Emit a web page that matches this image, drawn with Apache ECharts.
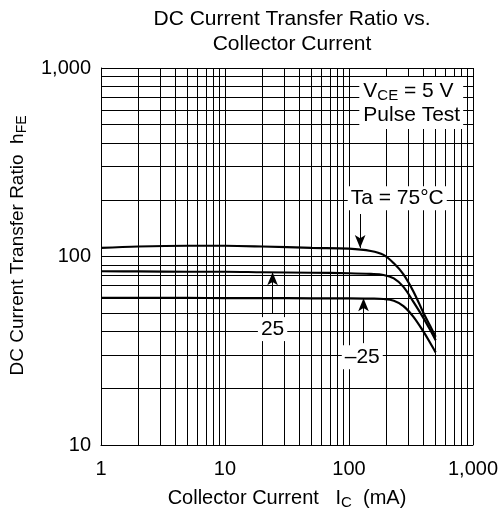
<!DOCTYPE html>
<html>
<head>
<meta charset="utf-8">
<script src="https://cdn.jsdelivr.net/npm/echarts@6/dist/echarts.min.js"></script>
<style>html,body{margin:0;padding:0;background:#fff;}#c{width:501px;height:516px;}</style>
</head>
<body>
<div id="c"></div>
<script>
// Collector current (mA)
var ic = [1, 2, 5, 10, 20, 50, 100, 150, 190, 230, 275, 330, 400, 450, 500];
// hFE per ambient temperature
var hfe75 = [111, 113, 114, 114, 113, 111, 110, 107, 102, 92, 80.5, 65.5, 50, 43, 37.5];
var hfe25 = [83.5, 83.3, 83, 83, 82.5, 82, 81.5, 80.8, 79.8, 76.5, 69, 57.6, 47, 41, 36];
var hfeM25 = [60.4, 60.4, 60.3, 60.2, 60.2, 60, 60, 59.8, 59.5, 58.3, 54.6, 48, 39.8, 35, 31];
var xTickLabels = ['1', '10', '100', '1,000'];
var yTickLabels = ['10', '100', '1,000'];

var FONT = 'Liberation Sans, Arial, sans-serif';
var FS = 20;
var AFS = 21;

function pairs(xs, ys) { return xs.map(function (x, i) { return [x, ys[i]]; }); }

// minor log grid lines 2..9 per decade
var gridX = [], gridY = [];
[1, 10, 100].forEach(function (d) { for (var k = 2; k <= 9; k++) gridX.push(k * d); });
[10, 100].forEach(function (d) { for (var k = 2; k <= 9; k++) gridY.push(k * d); });

var gridLineData = gridX.map(function (v) { return { xAxis: v }; })
  .concat(gridY.map(function (v) { return { yAxis: v }; }));

var decadeLabel = { 1: xTickLabels[0], 10: xTickLabels[1], 100: xTickLabels[2], 1000: xTickLabels[3] };
var decadeLabelY = { 10: yTickLabels[0], 100: yTickLabels[1], 1000: yTickLabels[2] };

function subRich(fs, subFs, pad) {
  return {
    a: { fontSize: fs, fontFamily: FONT, color: '#000' },
    s: { fontSize: subFs, fontFamily: FONT, color: '#000', padding: [pad, 0, 0, 0] }
  };
}

var chart = echarts.init(document.getElementById('c'), null, { renderer: 'canvas' });
chart.setOption({
  animation: false,
  backgroundColor: '#fff',
  title: {
    text: 'DC Current Transfer Ratio vs.\nCollector Current',
    left: 287,
    top: 2,
    textAlign: 'center',
    textStyle: { fontSize: 21, fontWeight: 'normal', fontFamily: FONT, color: '#000', lineHeight: 25 }
  },
  grid: { left: 100, right: 28, top: 68, bottom: 71, containLabel: false },
  xAxis: {
    type: 'log', logBase: 10, min: 1, max: 1000,
    name: '{a|Collector Current   I}{s|C}{a|  (mA)}',
    nameLocation: 'middle', nameGap: 41,
    nameTextStyle: { rich: subRich(20, 15, 9) },
    axisLine: { show: true, lineStyle: { color: '#000', width: 1 } },
    axisTick: { show: false },
    axisLabel: { formatter: function (v) { return decadeLabel[v] || ''; }, fontSize: FS, fontFamily: FONT, color: '#000', margin: 14 },
    splitLine: { show: true, lineStyle: { color: '#000', width: 1 } }
  },
  yAxis: {
    type: 'log', logBase: 10, min: 10, max: 1000,
    name: '{a|DC Current Transfer Ratio  h}{s|FE}',
    nameLocation: 'middle', nameGap: 72, nameRotate: 90,
    nameTextStyle: { rich: subRich(19, 14, 9), padding: [0, 0, 0, 22] },
    axisLine: { show: true, lineStyle: { color: '#000', width: 1 } },
    axisTick: { show: false },
    axisLabel: { formatter: function (v) { return decadeLabelY[v] || ''; }, fontSize: FS, fontFamily: FONT, color: '#000', margin: 10 },
    splitLine: { show: true, lineStyle: { color: '#000', width: 1 } }
  },
  series: [
    {
      name: 'grid', type: 'line', data: [], z: 1, silent: true,
      markLine: {
        silent: true, symbol: ['none', 'none'], label: { show: false },
        lineStyle: { color: '#000', width: 1, type: 'solid' },
        emphasis: { disabled: true },
        data: gridLineData
      }
    },
    { name: '75', type: 'line', data: pairs(ic, hfe75), smooth: 0.35, showSymbol: false, z: 3,
      lineStyle: { color: '#000', width: 2.2 } },
    { name: '25', type: 'line', data: pairs(ic, hfe25), smooth: 0.35, showSymbol: false, z: 3,
      lineStyle: { color: '#000', width: 2.2 } },
    { name: '-25', type: 'line', data: pairs(ic, hfeM25), smooth: 0.35, showSymbol: false, z: 3,
      lineStyle: { color: '#000', width: 2.2 } },
    {
      name: 'annot', type: 'line', data: [], z: 10, silent: true,
      markLine: {
        silent: true, symbol: ['none', 'arrow'], symbolSize: [8, 13], label: { show: false },
        lineStyle: { color: '#000', width: 1, type: 'solid' },
        emphasis: { disabled: true },
        data: [
          [{ coord: [123, 168] }, { coord: [123, 111] }],
          [{ coord: [24.2, 50] }, { coord: [24.2, 82.5] }],
          [{ coord: [131, 34.7] }, { coord: [131, 60] }]
        ]
      },
      markPoint: {
        silent: true, symbol: 'circle', symbolSize: 1,
        itemStyle: { color: 'rgba(0,0,0,0)' },
        label: { show: true, position: 'inside', fontSize: AFS, fontFamily: FONT, color: '#000',
          backgroundColor: '#fff', padding: [2, 3, 1, 3] },
        data: [
          { coord: [245, 204], value: 0, label: { formatter: 'Ta = 75°C' } },
          { coord: [24.2, 41.2], value: 0, label: { formatter: '25' } },
          { coord: [128, 29.2], value: 0, label: { formatter: '–25' } },
          { coord: [120, 652], value: 0, label: {
              position: 'right', distance: 0, padding: [2, 3, 2, 4],
              formatter: '{a|V}{s|CE}{a| = 5 V}\n{a|Pulse Test}',
              rich: {
                a: { fontSize: AFS, fontFamily: FONT, color: '#000', lineHeight: 24, align: 'left' },
                s: { fontSize: 15, fontFamily: FONT, color: '#000', padding: [9, 0, 0, 0], align: 'left' }
              } } }
        ]
      }
    }
  ]
});
</script>
</body>
</html>
